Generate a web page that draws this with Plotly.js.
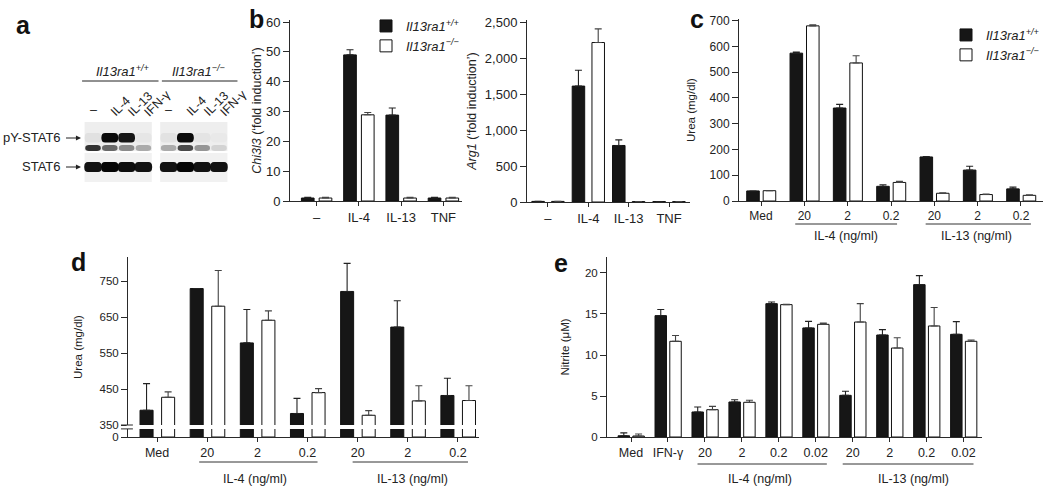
<!DOCTYPE html>
<html><head><meta charset="utf-8">
<script src="https://cdn.plot.ly/plotly-3.0.1.min.js"></script>
<style>body{margin:0;background:#fff}#chart{width:1050px;height:491px}</style>
</head><body><div id="chart"></div>
<script>
// ---------- Panel a : western blot band intensities (0..1) ----------
const blotLanes = ['–','IL-4','IL-13','IFN-γ','–','IL-4','IL-13','IFN-γ'];
const pySTAT6Main = [0.06, 1.0, 0.95, 0.03, 0.05, 1.0, 0.04, 0.02];
const pySTAT6Low  = [0.85, 0.6, 0.45, 0.3, 0.3, 0.75, 0.4, 0.12];
const stat6Band   = [0.95, 1.0, 0.97, 0.95, 0.95, 1.0, 0.95, 0.95];

// ---------- Panel b ----------
const bCats = ['–','IL-4','IL-13','TNF'];
const chiWT = [1, 49, 28.8, 1];
const chiWTerr = [0.2, 1.7, 2.4, 0.2];
const chiKO = [1, 28.9, 1, 1];
const chiKOerr = [0.2, 0.8, 0.2, 0.2];
const argWT = [8, 1610, 785, 6];
const argWTerr = [0, 220, 78, 0];
const argKO = [8, 2215, 6, 6];
const argKOerr = [0, 190, 0, 0];

// ---------- Panel c ----------
const cCats = ['Med','20','2','0.2','20','2','0.2'];
const cWT = [39, 574, 361, 57, 171, 120, 47];
const cWTerr = [0, 4, 14, 6, 2, 15, 7];
const cKO = [40, 680, 536, 72, 30, 25, 22];
const cKOerr = [0, 4, 28, 4, 2, 2, 2];

// ---------- Panel d ----------
const dCats = ['Med','20','2','0.2','20','2','0.2'];
const dWT = [391, 729, 578, 382, 721, 622, 432];
const dWTerr = [74, 0, 93, 42, 78, 73, 48];
const dKO = [427, 680, 641, 440, 377, 417, 418];
const dKOerr = [15, 99, 26, 11, 13, 42, 41];
const dTickVals = [0, 350, 450, 550, 650, 750];

// ---------- Panel e ----------
const eCats = ['Med','IFN-γ','20','2','0.2','0.02','20','2','0.2','0.02'];
const eWT = [0.15, 14.8, 3.05, 4.27, 16.26, 13.3, 5.08, 12.44, 18.58, 12.52];
const eWTerr = [0.35, 0.75, 0.6, 0.28, 0.2, 0.8, 0.5, 0.65, 1.1, 1.55];
const eKO = [0.12, 11.67, 3.33, 4.23, 16.14, 13.74, 14.02, 10.85, 13.54, 11.67];
const eKOerr = [0.25, 0.7, 0.4, 0.25, 0.05, 0.15, 2.25, 1.25, 2.25, 0.15];

const nameWT = '<i>Il13ra1<sup>+/+</sup></i>';
const nameKO = '<i>Il13ra1<sup>−/−</sup></i>';

// ---------- helpers ----------
const W = 1050, H = 491;
const px = v => v / W;
const py = v => 1 - v / H;
const idx = arr => arr.map((_, i) => i);
const zeros = arr => arr.map(() => 0);
const FONT = 'Liberation Sans, Arial, Helvetica, sans-serif';
const AX = '#2a2a2a';

// broken axis for panel d: 0..350 squeezed into LOW units, above 350 linear
const LOW = 33.33;
const brk = v => v <= 350 ? v * LOW / 350 : LOW + (v - 350);

function barPair(xa, ya, x, wt, wtErr, ko, koErr, offB, offW, w, legend, show) {
  return [
    {type:'bar', x, y: wt, xaxis: xa, yaxis: ya, name: nameWT, legend, showlegend: show,
     offset: offB, width: w,
     marker:{color:'#161616', line:{color:'#111', width:1}},
     error_y:{type:'data', array: wtErr, arrayminus: zeros(wtErr), symmetric:false, color:'#222', thickness:1.1, width:3.5},
     hoverinfo:'skip'},
    {type:'bar', x, y: ko, xaxis: xa, yaxis: ya, name: nameKO, legend, showlegend: show,
     offset: offW, width: w,
     marker:{color:'#ffffff', line:{color:'#111', width:1}},
     error_y:{type:'data', array: koErr, arrayminus: zeros(koErr), symmetric:false, color:'#444', thickness:1.1, width:3.5},
     hoverinfo:'skip'}
  ];
}

const data = [];
data.push(...barPair('x','y', idx(bCats), chiWT, chiWTerr, chiKO, chiKOerr, -0.36, 0.06, 0.30, 'legend', true));
data.push(...barPair('x2','y2', idx(bCats), argWT, argWTerr, argKO, argKOerr, -0.40, 0.09, 0.31, 'legend', false));
data.push(...barPair('x3','y3', idx(cCats), cWT, cWTerr, cKO, cKOerr, -0.33, 0.05, 0.29, 'legend2', true));
data.push(...barPair('x4','y4', idx(dCats), dWT.map(brk), dWTerr, dKO.map(brk), dKOerr, -0.34, 0.09, 0.26, 'legend', false));
data.push(...barPair('x5','y5', idx(eCats), eWT, eWTerr, eKO, eKOerr, -0.35, 0.05, 0.31, 'legend', false));
// invisible trace for the blot coordinate system
data.push({type:'scatter', x:[], y:[], xaxis:'x6', yaxis:'y6', showlegend:false, hoverinfo:'skip'});

function xax(d0, d1, range, cats, anchor, size) {
  return {domain:[px(d0), px(d1)], range, anchor, tickvals: idx(cats), ticktext: cats,
    showline:true, linecolor:AX, linewidth:1, ticks:'outside', ticklen:4, tickcolor:AX,
    showgrid:false, zeroline:false, tickfont:{size, color:'#222'}, fixedrange:true};
}
function yax(top, bottom, range, anchor, dtick, title, tsize, standoff, size, extra) {
  return Object.assign({domain:[py(bottom), py(top)], range, anchor, dtick,
    showline:true, linecolor:AX, linewidth:1, ticks:'outside', ticklen:6, tickcolor:AX,
    showgrid:false, zeroline:false, tickfont:{size, color:'#222'}, fixedrange:true,
    title:{text:title, font:{size:tsize, color:'#222'}, standoff}}, extra || {});
}

const layout = {
  width: W, height: H, margin:{l:0, r:0, t:0, b:0},
  paper_bgcolor:'#fff', plot_bgcolor:'rgba(0,0,0,0)',
  font:{family: FONT, color:'#222', size:12},
  barmode:'overlay', showlegend:true,
  legend:{x: px(366), y: py(11), xanchor:'left', yanchor:'top', bgcolor:'rgba(0,0,0,0)',
          font:{size:13}, tracegroupgap:0, itemclick:false},
  legend2:{x: px(946), y: py(20), xanchor:'left', yanchor:'top', bgcolor:'rgba(0,0,0,0)',
          font:{size:13}, tracegroupgap:0, itemclick:false},
  xaxis:  xax(290, 462, [-0.63, 3.44], bCats, 'y', 13),
  yaxis:  yax(20, 201, [0, 60.7], 'x', 10, '<i>Chi3l3</i> (‘fold induction’)', 12.5, 1, 13),
  xaxis2: xax(527, 690, [-0.52, 3.52], bCats, 'y2', 13),
  yaxis2: yax(20, 202, [0, 2528], 'x2', 500, '<i>Arg1</i> (‘fold induction’)', 12.5, 5, 13, {tickformat:','}),
  xaxis3: xax(739, 1043, [-0.508, 6.508], cCats, 'y3', 12),
  yaxis3: yax(19, 201, [0, 706.6], 'x3', 100, 'Urea (mg/dl)', 11.5, 11, 12),
  xaxis4: xax(128, 479, [-0.58, 6.42], dCats, 'y4', 12.5),
  yaxis4: yax(257, 437, [0, 500], 'x4', null, 'Urea (mg/dl)', 11.5, 14, 11.5,
          {tickmode:'array', tickvals: dTickVals.map(brk), ticktext: dTickVals.map(String)}),
  xaxis5: xax(607, 982, [-0.65, 9.5], eCats, 'y5', 12.5),
  yaxis5: yax(257, 437, [0, 21.95], 'x5', 5, 'Nitrite (μM)', 11.5, 12, 11.5),
  xaxis6: {domain:[0, px(250)], range:[(0-93)/16.8, (250-93)/16.8], anchor:'y6', visible:false, fixedrange:true},
  yaxis6: {domain:[py(200), py(40)], range:[200, 40], anchor:'x6', visible:false, fixedrange:true},
  shapes: [], annotations: []
};

const S = layout.shapes, A = layout.annotations;

// ---------- Panel a drawing ----------
const lanePos = blotLanes.map((_, i) => i + (i >= 4 ? 0.5 : 0));
function band(p, hw, y0, y1) {
  const rx = 0.22, ry = (y1 - y0) * 0.45, a = p - hw, b = p + hw;
  return `M${a+rx},${y0} L${b-rx},${y0} Q${b},${y0} ${b},${y0+ry} L${b},${y1-ry} Q${b},${y1} ${b-rx},${y1} ` +
         `L${a+rx},${y1} Q${a},${y1} ${a},${y1-ry} L${a},${y0+ry} Q${a},${y0} ${a+rx},${y0} Z`;
}
// background strips
[[-0.5, 3.5], [4.0, 8.0]].forEach(([a, b]) => {
  S.push({type:'rect', xref:'x6', yref:'y6', x0:a, x1:b, y0:122, y1:151, fillcolor:'#eeeeee', line:{width:0}, layer:'below'});
  S.push({type:'rect', xref:'x6', yref:'y6', x0:a, x1:b, y0:153, y1:182, fillcolor:'#f1f1f1', line:{width:0}, layer:'below'});
});
lanePos.forEach((p, i) => {
  S.push({type:'path', xref:'x6', yref:'y6', path: band(p, 0.5, 133, 142.5),
          fillcolor:'#0a0a0a', opacity:pySTAT6Main[i], line:{width:0}});
  S.push({type:'path', xref:'x6', yref:'y6', path: band(p, 0.46, 145, 151),
          fillcolor:'#111', opacity:pySTAT6Low[i], line:{width:0}});
  S.push({type:'path', xref:'x6', yref:'y6', path: band(p, 0.52, 162, 172),
          fillcolor:'#050505', opacity:stat6Band[i], line:{width:0}});
  if (i === 0 || i === 4) {
    A.push({xref:'x6', yref:'y6', x:p, y:110, text:blotLanes[i], showarrow:false,
            xanchor:'center', yanchor:'middle', font:{size:12.5}});
  } else {
    A.push({xref:'x6', yref:'y6', x:p-0.25, y:122, text:blotLanes[i], showarrow:false, textangle:-45,
            xanchor:'left', yanchor:'bottom', font:{size:12.5}});
  }
});
// group labels + underlines
A.push({xref:'x6', yref:'y6', x:1.75, y:71, text:'<i>Il13ra1<sup>+/+</sup></i>', showarrow:false,
        xanchor:'center', yanchor:'middle', font:{size:13}});
A.push({xref:'x6', yref:'y6', x:6.3, y:71, text:'<i>Il13ra1<sup>−/−</sup></i>', showarrow:false,
        xanchor:'center', yanchor:'middle', font:{size:13}});
S.push({type:'line', xref:'x6', yref:'y6', x0:-0.65, x1:3.9, y0:81, y1:81, line:{color:'#222', width:1}});
S.push({type:'line', xref:'x6', yref:'y6', x0:4.1, x1:8.6, y0:81, y1:81, line:{color:'#222', width:1}});
// row labels with arrows
const tip = (81 - 93) / 16.8, tail = (66 - 93) / 16.8;
[['pY-STAT6', 138], ['STAT6', 167]].forEach(([t, yy]) => {
  A.push({xref:'paper', yref:'y6', x:px(63), y:yy, text:t, showarrow:false, xanchor:'right', yanchor:'middle', font:{size:13}});
  S.push({type:'line', xref:'x6', yref:'y6', x0:tail, x1:tip - 0.1, y0:yy, y1:yy, line:{color:'#222', width:1}});
  S.push({type:'path', xref:'x6', yref:'y6', path:`M${tip},${yy} L${tip-0.3},${yy-2.5} L${tip-0.3},${yy+2.5} Z`,
          fillcolor:'#222', line:{width:0}});
});

// ---------- panel letters ----------
[['a',23,25],['b',256,19],['c',697,19],['d',78,262],['e',561,263]].forEach(([t,x,y]) => {
  A.push({xref:'paper', yref:'paper', x:px(x), y:py(y), text:'<b>'+t+'</b>', showarrow:false,
          xanchor:'center', yanchor:'middle',
          font:{size:25, family:'Liberation Sans, Arial, sans-serif', color:'#111'}});
});

// ---------- group underlines / labels ----------
function groupLabel(xa, a, b, lineY, textY, textX, text) {
  S.push({type:'line', xref:xa, yref:'paper', x0:a, x1:b, y0:py(lineY), y1:py(lineY), line:{color:'#333', width:1}});
  A.push({xref:xa, yref:'paper', x:textX, y:py(textY), text, showarrow:false,
          xanchor:'center', yanchor:'middle', font:{size:12.5}});
}
groupLabel('x3', 0.79, 3.14, 224, 236, 1.95, 'IL-4 (ng/ml)');
groupLabel('x3', 3.8, 6.23, 224, 236, 4.98, 'IL-13 (ng/ml)');
groupLabel('x4', 0.84, 3.2, 462, 479, 1.95, 'IL-4 (ng/ml)');
groupLabel('x4', 3.9, 6.2, 462, 479, 5.1, 'IL-13 (ng/ml)');
groupLabel('x5', 1.8, 5.3, 464, 479, 3.5, 'IL-4 (ng/ml)');
groupLabel('x5', 5.73, 9.27, 464, 479, 7.65, 'IL-13 (ng/ml)');

// ---------- axis break in panel d ----------
S.push({type:'rect', xref:'x4 domain', yref:'y4', x0:-0.004, x1:1, y0:22.5, y1:LOW, fillcolor:'#fff', line:{width:0}, layer:'above'});
[22.5, LOW].forEach(v => S.push({type:'line', xref:'x4 domain', yref:'y4', x0:-0.02, x1:0.014, y0:v, y1:v,
  line:{color:AX, width:1}, layer:'above'}));

Plotly.newPlot('chart', data, layout, {displayModeBar:false, staticPlot:true});
</script>
</body></html>
